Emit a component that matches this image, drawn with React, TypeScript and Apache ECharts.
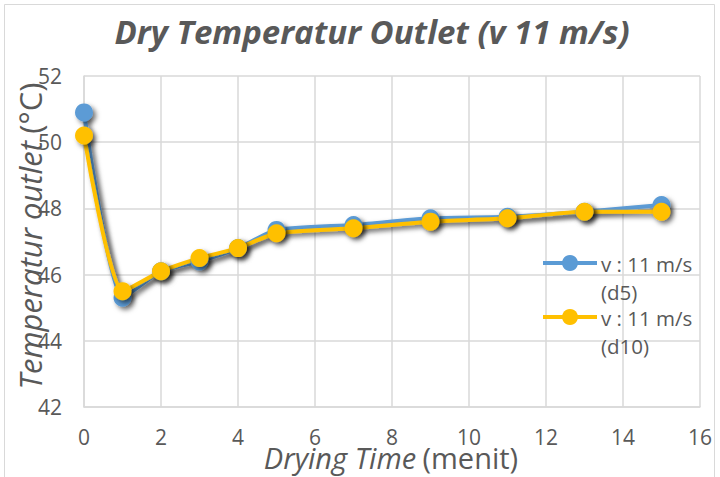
import React, { useEffect, useRef } from "react";
import * as echarts from "echarts";

const time = [0, 1, 2, 3, 4, 5, 7, 9, 11, 13, 15];
const d5 = [50.9, 45.3, 46.1, 46.4, 46.8, 47.35, 47.5, 47.7, 47.75, 47.9, 48.1];
const d10 = [50.2, 45.5, 46.1, 46.5, 46.8, 47.25, 47.4, 47.6, 47.7, 47.9, 47.9];
const seriesNames = ["v : 11 m/s (d5)", "v : 11 m/s (d10)"];
const legendLines = [["v : 11 m/s", "(d5)"], ["v : 11 m/s", "(d10)"]];
const colors = ["#5B9BD5", "#FFC000"];

const FONT = "'Open Sans'";

export default function App() {
  const ref = useRef<HTMLDivElement>(null);
  useEffect(() => {
    const chart = echarts.init(ref.current!, null, { renderer: "svg" });
    const mk = (name: string, vals: number[], color: string) => ({
      name,
      type: "line",
      data: time.map((t, i) => [t, vals[i]]),
      smooth: 0.2,
      symbol: "circle",
      symbolSize: 18,
      lineStyle: {
        color,
        width: 4,
        shadowColor: "rgba(0,0,0,0.55)",
        shadowBlur: 5,
        shadowOffsetX: 3,
        shadowOffsetY: 3,
      },
      itemStyle: {
        color,
        shadowColor: "rgba(0,0,0,0.55)",
        shadowBlur: 5,
        shadowOffsetX: 3,
        shadowOffsetY: 3,
      },
    });
    const legendGraphics: any[] = [];
    const legendY = [263, 317];
    legendLines.forEach((ls, i) => {
      const y = legendY[i];
      legendGraphics.push(
        { type: "line", shape: { x1: 543, y1: y, x2: 597, y2: y }, style: { stroke: colors[i], lineWidth: 4 }, z: 10 },
        { type: "circle", shape: { cx: 570, cy: y, r: 8 }, style: { fill: colors[i] }, z: 11 },
        { type: "text", x: 601, y: y + 1, style: { text: ls[0], font: `20.5px ${FONT}`, fill: "#595959", verticalAlign: "middle" }, z: 10 },
        { type: "text", x: 601, y: y + 29, style: { text: ls[1], font: `20.5px ${FONT}`, fill: "#595959", verticalAlign: "middle" }, z: 10 }
      );
    });
    chart.setOption({
      animation: false,
      backgroundColor: "#fff",
      title: {
        text: "Dry Temperatur Outlet (v 11 m/s)",
        left: 367,
        textAlign: "center",
        top: 10,
        textStyle: { fontFamily: FONT, fontSize: 33, fontStyle: "italic", fontWeight: "bold", color: "#595959" },
      },
      grid: { left: 84, right: 20, top: 76, bottom: 70 },
      xAxis: {
        type: "value",
        min: 0,
        max: 16,
        interval: 2,
        axisLine: { show: true, lineStyle: { color: "#D9D9D9", width: 1.5 } },
        axisTick: { show: false },
        splitLine: { show: true, lineStyle: { color: "#D9D9D9", width: 1.5 } },
        axisLabel: { margin: 19, fontFamily: FONT, fontSize: 21, color: "#595959" },
      },
      yAxis: {
        type: "value",
        min: 42,
        max: 52,
        interval: 2,
        axisLine: { show: true, lineStyle: { color: "#D9D9D9", width: 1.5 } },
        axisTick: { show: false },
        splitLine: { show: true, lineStyle: { color: "#D9D9D9", width: 1.5 } },
        axisLabel: { margin: 22, fontFamily: FONT, fontSize: 21, color: "#595959" },
      },
      series: [mk(seriesNames[0], d5, colors[0]), mk(seriesNames[1], d10, colors[1])],
      graphic: [
        { type: "rect", shape: { x: 4.5, y: 4.5, width: 710, height: 490 }, style: { fill: "none", stroke: "#D9D9D9", lineWidth: 1 }, silent: true },
        {
          type: "text",
          x: 30,
          y: 236,
          rotation: Math.PI / 2,
          style: {
            text: "{i|Temperatur outlet} {n|(°C)}",
            align: "center",
            verticalAlign: "middle",
            rich: {
              i: { font: `italic 31px ${FONT}`, fill: "#595959", lineHeight: 32 },
              n: { font: `31px ${FONT}`, fill: "#595959", lineHeight: 32, padding: [0, 0, 0, 4] },
            },
          },
          z: 10,
        },
        {
          type: "text",
          x: 391,
          y: 457,
          style: {
            text: "{i|Drying Time} {n|(menit)}",
            align: "center",
            verticalAlign: "middle",
            rich: {
              i: { font: `italic 29px ${FONT}`, fill: "#595959", lineHeight: 28 },
              n: { font: `29px ${FONT}`, fill: "#595959", lineHeight: 28, padding: [0, 0, 0, 3] },
            },
          },
          z: 10,
        },
        ...legendGraphics,
      ],
    });
    return () => chart.dispose();
  }, []);
  return <div ref={ref} style={{ position: "fixed", left: 0, top: 0, width: 720, height: 477 }} />;
}
